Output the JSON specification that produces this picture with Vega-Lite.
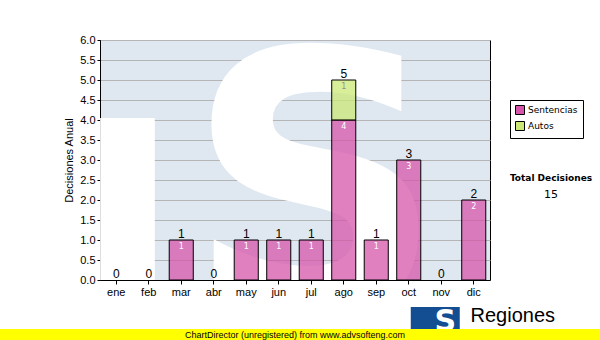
{
  "$schema": "https://vega.github.io/schema/vega-lite/v6.json",
  "padding": {"left": -10, "top": 33, "right": 0, "bottom": 0},
  "background": "white",
  "bounds": "flush",
  "center": true,
  "spacing": 49,
  "config": {
    "axisX": {
      "titleFont": "Liberation Sans",
      "titleFontSize": 20,
      "titleFontWeight": "normal",
      "titleColor": "black",
      "titleX": 370,
      "titleY": 41,
      "titleAlign": "left",
      "titleBaseline": "alphabetic",
      "labelAngle": 0,
      "labelFont": "Liberation Sans",
      "labelFontSize": 11,
      "labelColor": "black",
      "labelPadding": 2,
      "tickSize": 4,
      "tickColor": "black",
      "domainColor": "black",
      "grid": false
    },
    "axisY": {
      "grid": true,
      "gridColor": "#b5b5b5",
      "gridOpacity": 1,
      "labelOverlap": false,
      "titleFont": "Liberation Sans",
      "titleFontSize": 11,
      "titleFontWeight": "normal",
      "titleColor": "black",
      "titlePadding": 5,
      "labelFont": "Liberation Sans",
      "labelFontSize": 11,
      "labelColor": "black",
      "labelPadding": 2,
      "tickSize": 3,
      "tickColor": "black",
      "domainColor": "black"
    }
  },
  "vconcat": [
    {
      "width": 390,
      "height": 240,
      "view": {"fill": "#dfe8f1", "stroke": "black", "strokeWidth": 1},
      "title": {
        "text": "Total Decisiones",
        "subtitle": "15",
        "anchor": "end",
        "frame": "group",
        "align": "center",
        "dx": 61,
        "dy": 170,
        "font": "DejaVu Sans",
        "fontSize": 9,
        "fontWeight": "bold",
        "color": "black",
        "subtitleFont": "DejaVu Sans",
        "subtitleFontSize": 11,
        "subtitleColor": "black",
        "subtitlePadding": 6
      },
      "data": {
        "values": [
          {"mes": "ene", "tipo": "Sentencias", "n": 0},
          {"mes": "feb", "tipo": "Sentencias", "n": 0},
          {"mes": "mar", "tipo": "Sentencias", "n": 1},
          {"mes": "abr", "tipo": "Sentencias", "n": 0},
          {"mes": "may", "tipo": "Sentencias", "n": 1},
          {"mes": "jun", "tipo": "Sentencias", "n": 1},
          {"mes": "jul", "tipo": "Sentencias", "n": 1},
          {"mes": "ago", "tipo": "Sentencias", "n": 4},
          {"mes": "sep", "tipo": "Sentencias", "n": 1},
          {"mes": "oct", "tipo": "Sentencias", "n": 3},
          {"mes": "nov", "tipo": "Sentencias", "n": 0},
          {"mes": "dic", "tipo": "Sentencias", "n": 2},
          {"mes": "ene", "tipo": "Autos", "n": 0},
          {"mes": "feb", "tipo": "Autos", "n": 0},
          {"mes": "mar", "tipo": "Autos", "n": 0},
          {"mes": "abr", "tipo": "Autos", "n": 0},
          {"mes": "may", "tipo": "Autos", "n": 0},
          {"mes": "jun", "tipo": "Autos", "n": 0},
          {"mes": "jul", "tipo": "Autos", "n": 0},
          {"mes": "ago", "tipo": "Autos", "n": 1},
          {"mes": "sep", "tipo": "Autos", "n": 0},
          {"mes": "oct", "tipo": "Autos", "n": 0},
          {"mes": "nov", "tipo": "Autos", "n": 0},
          {"mes": "dic", "tipo": "Autos", "n": 0}
        ]
      },
      "layer": [
        {
          "data": {"values": [{"marca": "S"}]},
          "mark": {"type": "rect", "color": "white"},
          "encoding": {
            "x": {"datum": "ene", "type": "nominal", "bandPosition": -0.17, "axis": {"title": "Regiones", "bandPosition": 0.5}},
            "x2": {"datum": "feb", "bandPosition": 0.75},
            "y": {"datum": 0, "type": "quantitative", "axis": {"title": "Decisiones Anual", "values": [0, 0.5, 1, 1.5, 2, 2.5, 3, 3.5, 4, 4.5, 5, 5.5, 6], "format": ".1f"}},
            "y2": {"datum": 4.05}
          }
        },
        {
          "data": {"values": [{"marca": "S"}]},
          "mark": {"type": "text", "font": "DejaVu Sans", "fontWeight": "bold", "fontSize": 360, "color": "white", "align": "center", "baseline": "alphabetic", "clip": true, "dx": 4},
          "encoding": {
            "x": {"datum": "jul", "type": "nominal", "axis": {"title": "Regiones", "bandPosition": 0.5}},
            "y": {"datum": -0.75, "type": "quantitative", "axis": {"title": "Decisiones Anual", "values": [0, 0.5, 1, 1.5, 2, 2.5, 3, 3.5, 4, 4.5, 5, 5.5, 6], "format": ".1f"}},
            "text": {"field": "marca"}
          }
        },
        {
          "data": {"values": [{"marca": "S"}]},
          "mark": {"type": "bar", "color": "#134d92", "width": 49, "xOffset": -6},
          "encoding": {
            "x": {"datum": "nov", "type": "nominal", "axis": {"title": "Regiones", "bandPosition": 0.5}},
            "y": {"datum": -0.675, "type": "quantitative", "axis": {"title": "Decisiones Anual", "values": [0, 0.5, 1, 1.5, 2, 2.5, 3, 3.5, 4, 4.5, 5, 5.5, 6], "format": ".1f"}},
            "y2": {"datum": -1.25}
          }
        },
        {
          "data": {"values": [{"marca": "S"}]},
          "mark": {"type": "text", "font": "DejaVu Sans", "fontWeight": "bold", "fontSize": 30, "color": "white", "align": "center", "baseline": "alphabetic", "dx": 4},
          "encoding": {
            "x": {"datum": "nov", "type": "nominal", "axis": {"title": "Regiones", "bandPosition": 0.5}},
            "y": {"datum": -1.28, "type": "quantitative", "axis": {"title": "Decisiones Anual", "values": [0, 0.5, 1, 1.5, 2, 2.5, 3, 3.5, 4, 4.5, 5, 5.5, 6], "format": ".1f"}},
            "text": {"field": "marca"}
          }
        },
        {
          "transform": [{"filter": "datum.n > 0"}],
          "mark": {"type": "bar", "stroke": "black", "strokeWidth": 1, "fillOpacity": 0.75},
          "encoding": {
            "x": {
              "field": "mes",
              "type": "nominal",
              "scale": {"domain": ["ene","feb","mar","abr","may","jun","jul","ago","sep","oct","nov","dic"], "paddingInner": 0.26, "paddingOuter": 0.13},
              "axis": {"title": "Regiones", "bandPosition": 0.5}
            },
            "y": {
              "field": "n",
              "type": "quantitative",
              "stack": "zero",
              "scale": {"domain": [0, 6], "nice": false},
              "axis": {"title": "Decisiones Anual", "values": [0, 0.5, 1, 1.5, 2, 2.5, 3, 3.5, 4, 4.5, 5, 5.5, 6], "format": ".1f"}
            },
            "color": {
              "field": "tipo",
              "type": "nominal",
              "scale": {"domain": ["Sentencias", "Autos"], "range": ["#d655aa", "#cbe876"]},
              "legend": {
                "orient": "none",
                "legendX": 520,
                "legendY": 60,
                "title": null,
                "strokeColor": "black",
                "fillColor": "white",
                "padding": 5,
                "symbolType": "square",
                "symbolSize": 81,
                "symbolStrokeColor": "black",
                "symbolStrokeWidth": 1,
                "labelFont": "DejaVu Sans",
                "labelFontSize": 9,
                "labelColor": "black",
                "labelOffset": 3,
                "rowPadding": 2
              }
            },
            "order": {"field": "tipo", "sort": "descending"}
          }
        },
        {
          "transform": [{"filter": "datum.n > 0"}],
          "mark": {"type": "text", "font": "DejaVu Sans", "fontSize": 8, "baseline": "middle", "dy": 7},
          "encoding": {
            "x": {"field": "mes", "type": "nominal", "axis": {"title": "Regiones", "bandPosition": 0.5}},
            "y": {"field": "n", "type": "quantitative", "stack": "zero", "axis": {"title": "Decisiones Anual", "values": [0, 0.5, 1, 1.5, 2, 2.5, 3, 3.5, 4, 4.5, 5, 5.5, 6], "format": ".1f"}},
            "detail": {"field": "tipo"},
            "order": {"field": "tipo", "sort": "descending"},
            "text": {"field": "n"},
            "color": {"condition": {"test": "datum.tipo === 'Autos'", "value": "#909090"}, "value": "white"}
          }
        },
        {
          "transform": [{"aggregate": [{"op": "sum", "field": "n", "as": "total"}], "groupby": ["mes"]}],
          "mark": {"type": "text", "font": "Liberation Sans", "fontSize": 12, "color": "black", "baseline": "alphabetic", "dy": -2},
          "encoding": {
            "x": {"field": "mes", "type": "nominal", "axis": {"title": "Regiones", "bandPosition": 0.5}},
            "y": {"field": "total", "type": "quantitative", "axis": {"title": "Decisiones Anual", "values": [0, 0.5, 1, 1.5, 2, 2.5, 3, 3.5, 4, 4.5, 5, 5.5, 6], "format": ".1f"}},
            "text": {"field": "total"}
          }
        }
      ]
    },
    {
      "width": 610,
      "height": 11,
      "view": {"fill": "#ffff00", "stroke": null},
      "data": {"values": [{"nota": "ChartDirector (unregistered) from www.advsofteng.com"}]},
      "mark": {"type": "text", "font": "Liberation Sans", "fontSize": 9, "color": "black", "baseline": "middle"},
      "encoding": {"text": {"field": "nota"}}
    }
  ]
}
